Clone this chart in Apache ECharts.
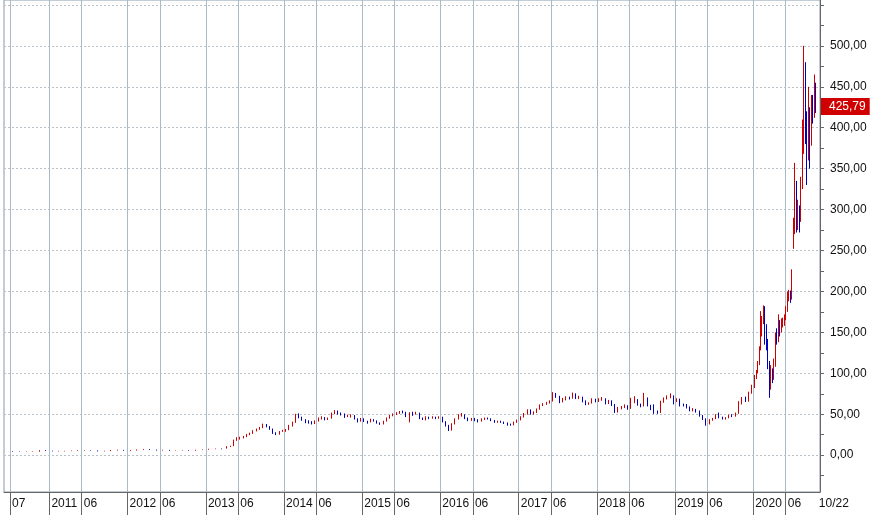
<!DOCTYPE html>
<html>
<head>
<meta charset="utf-8">
<script src="https://cdn.jsdelivr.net/npm/echarts@6/dist/echarts.min.js"></script>
<style>
  html, body { margin: 0; padding: 0; background: #fff; }
  #chart { width: 875px; height: 515px; }
</style>
</head>
<body>
<div id="chart"></div>
<script>
// 行情数据 [日期, 开, 收, 低, 高]
const candles = [
  ["2010-07-15", 4.5, 4.2, 4.0, 4.8], ["2010-08-15", 4.2, 4.0, 3.8, 4.4], ["2010-09-15", 4.0, 4.2, 3.9, 4.5],
  ["2010-10-15", 4.2, 4.3, 4.0, 4.6], ["2010-11-15", 4.3, 5.6, 4.2, 6.0], ["2010-12-15", 5.6, 5.3, 5.0, 6.0],
  ["2011-01-15", 5.3, 4.8, 4.6, 5.5], ["2011-02-15", 4.8, 4.8, 4.5, 5.2], ["2011-03-15", 4.8, 5.0, 4.6, 5.3],
  ["2011-04-15", 5.0, 5.4, 4.9, 5.6], ["2011-05-15", 5.4, 5.8, 5.2, 6.0], ["2011-06-15", 5.8, 5.8, 5.4, 6.1],
  ["2011-07-15", 5.8, 5.6, 5.4, 6.0], ["2011-08-15", 5.6, 4.9, 4.6, 5.8], ["2011-09-15", 4.9, 5.0, 4.6, 5.4],
  ["2011-10-15", 5.0, 5.9, 4.9, 6.2], ["2011-11-15", 5.9, 6.4, 5.6, 6.7], ["2011-12-15", 6.4, 5.7, 5.4, 6.5],
  ["2012-01-15", 5.7, 5.8, 4.9, 6.0], ["2012-02-15", 5.8, 6.7, 5.6, 7.0], ["2012-03-15", 6.7, 7.4, 6.5, 7.6],
  ["2012-04-15", 7.4, 6.6, 6.4, 7.5], ["2012-05-15", 6.6, 5.9, 5.6, 6.8], ["2012-06-15", 5.9, 6.3, 5.6, 6.5],
  ["2012-07-15", 6.3, 5.6, 5.3, 6.4], ["2012-08-15", 5.6, 5.8, 5.4, 6.0], ["2012-09-15", 5.8, 5.9, 5.6, 6.2],
  ["2012-10-15", 5.9, 5.6, 5.3, 6.1], ["2012-11-15", 5.6, 6.3, 5.4, 6.6], ["2012-12-15", 6.3, 6.8, 6.2, 7.0],
  ["2013-01-15", 6.8, 7.5, 6.6, 7.8], ["2013-02-15", 7.5, 7.7, 7.2, 8.0], ["2013-03-15", 7.7, 7.6, 7.2, 8.1],
  ["2013-04-10", 8.0, 10.5, 8.0, 11.0], ["2013-04-25", 10.5, 11.0, 10.0, 11.5], ["2013-05-10", 11.0, 18.0, 11.0, 19.0],
  ["2013-05-25", 18.0, 20.0, 17.5, 22.0], ["2013-06-10", 20.0, 21.0, 19.0, 22.5], ["2013-06-25", 21.0, 22.5, 20.5, 23.5],
  ["2013-07-10", 22.5, 25.0, 22.0, 26.0], ["2013-07-25", 25.0, 26.5, 24.5, 27.5], ["2013-08-10", 26.5, 29.5, 26.0, 30.5],
  ["2013-08-25", 29.5, 31.5, 29.0, 32.5], ["2013-09-10", 31.5, 33.5, 31.0, 34.5], ["2013-09-25", 33.5, 37.0, 33.0, 38.5],
  ["2013-10-10", 37.0, 35.0, 34.0, 38.0], ["2013-10-25", 35.0, 32.0, 31.0, 35.5], ["2013-11-10", 32.0, 27.0, 26.0, 32.5],
  ["2013-11-25", 27.0, 25.5, 24.5, 28.0], ["2013-12-10", 25.5, 29.0, 25.0, 29.5], ["2013-12-25", 29.0, 30.0, 28.5, 31.0],
  ["2014-01-10", 30.0, 31.0, 28.5, 32.0], ["2014-01-25", 31.0, 36.0, 30.5, 37.0], ["2014-02-10", 36.0, 40.0, 35.0, 41.0],
  ["2014-02-25", 40.0, 49.0, 39.5, 50.5], ["2014-03-10", 49.0, 46.5, 45.0, 51.0], ["2014-03-25", 46.5, 43.0, 42.0, 47.0],
  ["2014-04-10", 43.0, 41.0, 39.0, 44.0], ["2014-04-25", 41.0, 40.5, 38.5, 42.5], ["2014-05-10", 40.5, 38.5, 37.5, 41.5],
  ["2014-05-25", 38.5, 41.5, 38.0, 42.5], ["2014-06-10", 41.5, 44.5, 41.0, 46.0], ["2014-06-25", 44.5, 45.5, 43.5, 47.5],
  ["2014-07-10", 45.5, 44.0, 42.5, 46.5], ["2014-07-25", 44.0, 45.0, 43.0, 46.0], ["2014-08-10", 45.0, 50.5, 44.5, 52.0],
  ["2014-08-25", 50.5, 53.5, 50.0, 55.0], ["2014-09-10", 53.5, 50.5, 49.5, 54.5], ["2014-09-25", 50.5, 49.5, 48.5, 52.0],
  ["2014-10-10", 49.5, 47.5, 45.5, 51.0], ["2014-10-25", 47.5, 48.5, 46.5, 49.5], ["2014-11-10", 48.5, 48.5, 46.0, 50.0],
  ["2014-11-25", 48.5, 44.5, 43.5, 49.0], ["2014-12-10", 44.5, 41.5, 40.0, 45.0], ["2014-12-25", 41.5, 44.5, 41.0, 45.5],
  ["2015-01-10", 44.5, 41.5, 40.5, 45.0], ["2015-01-25", 41.5, 40.5, 38.5, 42.0], ["2015-02-10", 40.5, 43.5, 40.0, 44.5],
  ["2015-02-25", 43.5, 42.0, 41.0, 44.0], ["2015-03-10", 42.0, 39.5, 38.5, 42.5], ["2015-03-25", 39.5, 38.0, 37.0, 40.0],
  ["2015-04-10", 38.0, 41.5, 37.5, 42.0], ["2015-04-25", 41.5, 45.0, 41.0, 46.0], ["2015-05-10", 45.0, 48.0, 44.5, 49.0],
  ["2015-05-25", 48.0, 50.0, 47.5, 51.0], ["2015-06-10", 50.0, 51.5, 49.0, 52.5], ["2015-06-25", 51.5, 53.0, 50.5, 54.0],
  ["2015-07-10", 53.0, 52.5, 51.0, 54.5], ["2015-07-25", 52.5, 48.0, 46.5, 53.0], ["2015-08-10", 48.0, 51.5, 40.0, 52.5],
  ["2015-08-25", 51.5, 50.0, 48.0, 53.0], ["2015-09-10", 50.0, 51.5, 49.5, 53.0], ["2015-09-25", 51.5, 45.0, 44.0, 52.0],
  ["2015-10-10", 45.0, 44.0, 43.0, 46.0], ["2015-10-25", 44.0, 46.5, 42.5, 47.5], ["2015-11-10", 46.5, 45.0, 44.0, 47.0],
  ["2015-11-25", 45.0, 46.5, 44.5, 47.5], ["2015-12-10", 46.5, 45.0, 44.0, 47.0], ["2015-12-25", 45.0, 46.5, 44.5, 47.5],
  ["2016-01-10", 46.5, 41.0, 40.0, 47.0], ["2016-01-25", 41.0, 36.0, 35.0, 41.5], ["2016-02-10", 36.0, 30.5, 29.5, 37.0],
  ["2016-02-25", 30.5, 38.0, 30.0, 39.0], ["2016-03-10", 38.0, 44.0, 37.5, 45.0], ["2016-03-25", 44.0, 48.5, 43.5, 50.0],
  ["2016-04-10", 48.5, 49.5, 47.0, 51.5], ["2016-04-25", 49.5, 45.0, 44.0, 50.0], ["2016-05-10", 45.0, 42.5, 41.5, 46.0],
  ["2016-05-25", 42.5, 44.5, 42.0, 45.5], ["2016-06-10", 44.5, 43.0, 41.5, 45.5], ["2016-06-25", 43.0, 41.5, 40.0, 44.0],
  ["2016-07-10", 41.5, 44.0, 41.0, 45.0], ["2016-07-25", 44.0, 45.0, 43.0, 46.0], ["2016-08-10", 45.0, 44.5, 43.5, 46.0],
  ["2016-08-25", 44.5, 42.5, 41.5, 45.0], ["2016-09-10", 42.5, 40.5, 39.5, 43.0], ["2016-09-25", 40.5, 41.0, 39.5, 42.0],
  ["2016-10-10", 41.0, 40.5, 39.5, 42.0], ["2016-10-25", 40.5, 39.0, 38.0, 41.0], ["2016-11-10", 39.0, 37.5, 36.0, 40.0],
  ["2016-11-25", 37.5, 37.0, 36.0, 38.5], ["2016-12-10", 37.0, 40.0, 36.5, 41.0], ["2016-12-25", 40.0, 43.0, 39.5, 43.5],
  ["2017-01-10", 43.0, 46.5, 42.5, 47.5], ["2017-01-25", 46.5, 50.0, 46.0, 51.5], ["2017-02-10", 50.0, 55.0, 49.5, 56.0],
  ["2017-02-25", 55.0, 50.5, 49.5, 56.0], ["2017-03-10", 50.5, 52.0, 49.5, 53.5], ["2017-03-25", 52.0, 56.0, 51.5, 57.0],
  ["2017-04-10", 56.0, 61.0, 55.5, 62.0], ["2017-04-25", 61.0, 62.5, 60.0, 63.5], ["2017-05-10", 62.5, 63.5, 61.5, 65.0],
  ["2017-05-25", 63.5, 66.0, 63.0, 67.0], ["2017-06-10", 66.0, 74.5, 65.5, 77.0], ["2017-06-25", 74.5, 72.0, 70.0, 76.0],
  ["2017-07-10", 72.0, 65.0, 63.5, 72.5], ["2017-07-25", 65.0, 67.5, 64.5, 70.0], ["2017-08-10", 67.5, 70.5, 67.0, 72.0],
  ["2017-08-25", 70.5, 69.5, 68.0, 71.5], ["2017-09-10", 69.5, 75.0, 69.0, 76.5], ["2017-09-25", 75.0, 70.0, 68.5, 75.5],
  ["2017-10-10", 70.0, 71.0, 68.5, 72.5], ["2017-10-25", 71.0, 66.0, 64.5, 71.5], ["2017-11-10", 66.0, 62.5, 61.0, 67.0],
  ["2017-11-25", 62.5, 63.5, 61.5, 64.5], ["2017-12-10", 63.5, 68.0, 63.0, 69.5], ["2017-12-25", 68.0, 66.0, 64.5, 69.0],
  ["2018-01-10", 66.0, 68.5, 65.0, 69.5], ["2018-01-25", 68.5, 69.0, 66.5, 71.0], ["2018-02-10", 69.0, 63.5, 62.0, 69.5],
  ["2018-02-25", 63.5, 66.0, 62.5, 67.5], ["2018-03-10", 66.0, 62.0, 60.0, 67.0], ["2018-03-25", 62.0, 53.5, 51.5, 62.5],
  ["2018-04-10", 53.5, 58.0, 52.0, 59.0], ["2018-04-25", 58.0, 58.5, 56.0, 60.0], ["2018-05-10", 58.5, 60.5, 57.5, 62.0],
  ["2018-05-25", 60.5, 57.0, 55.5, 61.0], ["2018-06-10", 57.0, 65.0, 56.5, 70.0], ["2018-06-25", 65.0, 68.0, 63.5, 72.0],
  ["2018-07-10", 68.0, 62.0, 60.5, 68.5], ["2018-07-25", 62.0, 60.0, 58.5, 63.0], ["2018-08-10", 60.0, 70.0, 59.5, 76.0],
  ["2018-08-25", 70.0, 61.0, 59.5, 70.5], ["2018-09-10", 61.0, 56.5, 55.0, 61.5], ["2018-09-25", 56.5, 53.0, 50.5, 62.0],
  ["2018-10-10", 53.0, 52.0, 50.5, 54.5], ["2018-10-25", 52.0, 65.0, 51.5, 66.5], ["2018-11-10", 65.0, 69.0, 64.0, 70.5],
  ["2018-11-25", 69.0, 70.5, 68.0, 73.0], ["2018-12-10", 70.5, 72.5, 69.5, 75.5], ["2018-12-25", 72.5, 66.5, 62.0, 73.0],
  ["2019-01-10", 66.5, 68.5, 65.0, 69.5], ["2019-01-25", 68.5, 61.5, 59.5, 69.0], ["2019-02-10", 61.5, 61.0, 59.5, 63.0],
  ["2019-02-25", 61.0, 59.0, 57.0, 62.5], ["2019-03-10", 59.0, 55.0, 53.5, 59.5], ["2019-03-25", 55.0, 55.5, 53.5, 57.5],
  ["2019-04-10", 55.5, 54.0, 52.0, 56.5], ["2019-04-25", 54.0, 48.5, 47.0, 54.5], ["2019-05-10", 48.5, 44.5, 43.0, 49.0],
  ["2019-05-25", 44.5, 39.0, 36.0, 45.0], ["2019-06-10", 39.0, 42.5, 37.5, 44.0], ["2019-06-25", 42.5, 44.5, 42.0, 45.5],
  ["2019-07-10", 44.5, 48.5, 44.0, 50.0], ["2019-07-25", 48.5, 46.0, 45.0, 52.0], ["2019-08-10", 46.0, 45.0, 43.5, 47.0],
  ["2019-08-25", 45.0, 45.5, 43.5, 46.5], ["2019-09-10", 45.5, 48.5, 45.0, 49.5], ["2019-09-25", 48.5, 48.0, 46.5, 50.0],
  ["2019-10-10", 48.0, 51.0, 47.0, 52.0], ["2019-10-25", 51.0, 63.0, 50.5, 66.0], ["2019-11-10", 63.0, 70.0, 62.0, 71.0],
  ["2019-11-25", 70.0, 66.0, 65.0, 71.5], ["2019-12-10", 66.0, 76.0, 65.5, 77.5], ["2019-12-25", 76.0, 83.0, 75.0, 86.0],
  ["2020-01-08", 83.0, 95.0, 82.0, 98.0], ["2020-01-16", 95.0, 102.0, 93.0, 104.0], ["2020-01-24", 102.0, 112.0, 100.0, 115.0],
  ["2020-01-31", 112.0, 130.0, 110.0, 133.0], ["2020-02-05", 130.0, 150.0, 128.0, 176.0], ["2020-02-12", 150.0, 165.0, 145.0, 170.0],
  ["2020-02-19", 165.0, 180.0, 160.0, 183.0], ["2020-02-26", 180.0, 155.0, 135.0, 182.0], ["2020-03-04", 155.0, 140.0, 128.0, 160.0],
  ["2020-03-11", 140.0, 110.0, 105.0, 142.0], ["2020-03-18", 110.0, 85.0, 70.0, 115.0], ["2020-03-25", 85.0, 102.0, 80.0, 110.0],
  ["2020-04-01", 102.0, 95.0, 88.0, 106.0], ["2020-04-08", 95.0, 110.0, 92.0, 118.0], ["2020-04-15", 110.0, 145.0, 108.0, 150.0],
  ["2020-04-22", 145.0, 140.0, 135.0, 155.0], ["2020-04-29", 140.0, 160.0, 138.0, 172.0], ["2020-05-06", 160.0, 155.0, 145.0, 165.0],
  ["2020-05-13", 155.0, 162.0, 150.0, 167.0], ["2020-05-20", 162.0, 165.0, 156.0, 168.0], ["2020-05-27", 165.0, 168.0, 158.0, 172.0],
  ["2020-06-03", 168.0, 178.0, 165.0, 182.0], ["2020-06-10", 178.0, 195.0, 175.0, 200.0], ["2020-06-17", 195.0, 198.0, 188.0, 202.0],
  ["2020-06-24", 198.0, 192.0, 186.0, 201.0], ["2020-07-01", 192.0, 225.0, 190.0, 227.0], ["2020-07-08", 225.0, 280.0, 252.0, 290.0],
  ["2020-07-15", 280.0, 300.0, 270.0, 357.0], ["2020-07-22", 300.0, 285.0, 272.0, 335.0], ["2020-07-29", 285.0, 300.0, 275.0, 312.0],
  ["2020-08-05", 300.0, 290.0, 272.0, 305.0], ["2020-08-12", 290.0, 328.0, 285.0, 340.0], ["2020-08-19", 328.0, 400.0, 325.0, 410.0],
  ["2020-08-26", 400.0, 475.0, 368.0, 500.0], ["2020-09-02", 475.0, 400.0, 380.0, 480.0], ["2020-09-09", 400.0, 372.0, 330.0, 420.0],
  ["2020-09-16", 372.0, 420.0, 360.0, 450.0], ["2020-09-23", 420.0, 380.0, 350.0, 425.0], ["2020-09-30", 380.0, 430.0, 378.0, 440.0],
  ["2020-10-07", 430.0, 420.0, 405.0, 440.0], ["2020-10-14", 420.0, 440.0, 412.0, 465.0], ["2020-10-21", 440.0, 425.79, 418.0, 455.0]
];
const lastPrice = 425.79;

// 价格刻度
const priceLabels = [0, 50, 100, 150, 200, 250, 300, 350, 400, 450, 500];
const priceGrid = [0, 50, 100, 150, 200, 250, 300, 350, 400, 450, 500, 550];
const priceTicks = [-25, 0, 25, 50, 75, 100, 125, 150, 175, 200, 225, 250, 275, 300, 325, 350, 375, 400, 425, 450, 475, 500, 525, 550];

// 时间轴刻度:每年 1 月和 6 月
const tickDates = [
  "2010-07-01",
  "2011-01-01", "2011-06-01", "2012-01-01", "2012-06-01", "2013-01-01", "2013-06-01",
  "2014-01-01", "2014-06-01", "2015-01-01", "2015-06-01", "2016-01-01", "2016-06-01",
  "2017-01-01", "2017-06-01", "2018-01-01", "2018-06-01", "2019-01-01", "2019-06-01",
  "2020-01-01", "2020-06-01"
];
const startDate = "2010-06-03";
const endDate = "2020-11-08";
const endLabelDate = "2020-10-24";

const ts = d => new Date(d + "T00:00:00Z").getTime();

function labelOf(v) {
  if (Math.abs(v - ts(endLabelDate)) < 86400000) return "10/22";
  const d = new Date(v);
  const m = d.getUTCMonth() + 1;
  if (m === 1) return String(d.getUTCFullYear());
  return (m < 10 ? "0" : "") + m;
}

const chart = echarts.init(document.getElementById("chart"));
const gridColor = "#a9b9c6";
const tickVals = tickDates.map(ts);
const labelVals = tickVals.concat([ts(endLabelDate)]);

chart.setOption({
  animation: false,
  backgroundColor: "#fff",
  grid: { left: 4, right: 55, top: 0, bottom: 23, show: true, borderColor: "#8a9aa8", borderWidth: 1 },
  xAxis: {
    type: "value",
    min: ts(startDate),
    max: ts(endDate),
    axisLine: { onZero: false, lineStyle: { color: "#666" } },
    axisTick: { show: true, customValues: tickVals, length: 23, lineStyle: { color: "#666" } },
    axisLabel: {
      customValues: labelVals, formatter: labelOf, align: "left", margin: 6, padding: [0, 0, 0, 2],
      color: "#111", fontFamily: "Liberation Sans", fontSize: 12, hideOverlap: false, interval: 0
    },
    splitLine: { show: false }
  },
  yAxis: {
    type: "value",
    position: "right",
    min: -45, max: 556,
    axisLine: { show: true, lineStyle: { color: "#666" } },
    axisTick: { show: true, customValues: priceTicks, length: 4, lineStyle: { color: "#666" } },
    axisLabel: {
      customValues: priceLabels, margin: 10, color: "#111", fontFamily: "Liberation Sans", fontSize: 12,
      formatter: v => v.toFixed(2).replace(".", ",")
    },
    splitLine: { show: false }
  },
  series: [{
    type: "candlestick",
    barWidth: 1,
    data: candles.map(r => [ts(r[0]), r[1], r[2], r[3], r[4]]),
    itemStyle: { color: "#cc0000", color0: "#0000bb", borderColor: "#cc0000", borderColor0: "#0000bb", borderWidth: 1 },
    markLine: {
      silent: true, symbol: "none", animation: false, z: 1,
      data: tickVals.map(t => ({ xAxis: t }))
        .concat(priceGrid.map(p => ({ yAxis: p, lineStyle: { color: "#b8c0c8", type: [2, 2] } })))
        .concat([{
          yAxis: lastPrice,
          lineStyle: { color: "rgba(0,0,0,0)" },
          label: {
            show: true, position: "end", formatter: lastPrice.toFixed(2).replace(".", ","),
            backgroundColor: "#d00000", color: "#fff", padding: [3, 4, 2, 8],
            fontFamily: "Liberation Sans", fontSize: 12, distance: 1
          }
        }]),
      lineStyle: { color: gridColor, type: "solid", width: 1 },
      label: { show: false }
    }
  }]
});
</script>
</body>
</html>
